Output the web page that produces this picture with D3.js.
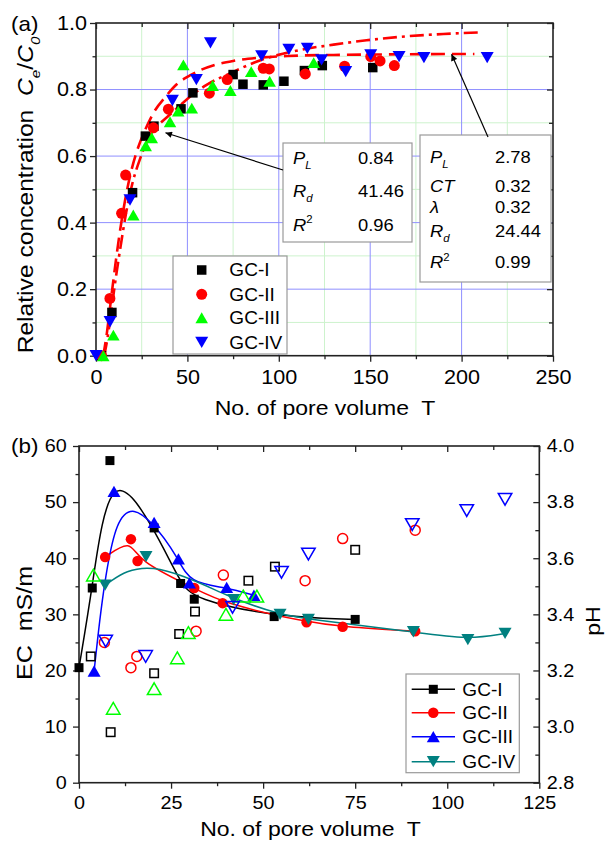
<!DOCTYPE html>
<html>
<head>
<meta charset="utf-8">
<script src="https://cdn.jsdelivr.net/npm/d3@7"></script>
<style>
  body { margin: 0; background: #fff; }
  svg { display: block; }
  text { font-family: Arial, "Liberation Sans", Helvetica, sans-serif; fill: #000; white-space: pre; }
</style>
</head>
<body>
<svg id="fig" width="608" height="841"></svg>
<script>
// ---------------- Panel (a): breakthrough curves ----------------
const aSeriesNames = ["GC-I", "GC-II", "GC-III", "GC-IV"];
const aXTicks = [0, 50, 100, 150, 200, 250];
const aXMinor = [25, 75, 125, 175, 225];
const aYTicks = [0, 0.2, 0.4, 0.6, 0.8, 1.0];
const aYMinor = [0.1, 0.3, 0.5, 0.7, 0.9];

const aGC1 = [[3,0],[8.7,0.13],[20,0.49],[27,0.66],[31.7,0.69],[46.5,0.742],[53,0.79],[75,0.845],[80.4,0.816],
  [91.5,0.814],[102.8,0.825],[114,0.857],[123.8,0.872],[151.4,0.866]];
const aGC2 = [[3,0],[7.6,0.172],[14,0.428],[16.2,0.543],[31.4,0.685],[39.6,0.741],[62,0.789],[71.8,0.83],
  [91.5,0.864],[94.8,0.862],[114.5,0.847],[136,0.87],[150.3,0.899],[155.4,0.886],[163.2,0.872]];
const aGC3 = [[4,0],[9.5,0.062],[20.4,0.423],[27.2,0.631],[30.5,0.655],[40.5,0.703],[45,0.735],[47.8,0.874],
  [52.4,0.744],[63.8,0.812],[73.5,0.797],[84.9,0.854],[95,0.825],[119.1,0.881]];
const aGC4 = [[0,0],[7.7,0.102],[18.6,0.468],[41.8,0.767],[54.9,0.83],[62.6,0.94],[90.6,0.901],[105.5,0.921],
  [115.6,0.924],[123.4,0.889],[136.6,0.854],[150.3,0.904],[165.8,0.899],[179.4,0.896],[214,0.896]];
const aSeriesData = [aGC1, aGC2, aGC3, aGC4];

// equilibrium CDE fit (dash-dot) and two-region fit (dashed)
const aFitEq = [[4.5,0],[6.5,0.06],[8.5,0.14],[11,0.24],[13.5,0.33],[16.5,0.43],[20,0.52],[24,0.59],[28,0.645],
  [31.4,0.678],[36,0.703],[40.5,0.725],[46,0.752],[51.4,0.778],[60.5,0.814],[73,0.848],[90,0.888],[111.6,0.919],
  [130,0.935],[148,0.948],[170,0.96],[190,0.967],[211,0.972]];
const aFitNoneq = [[4,0],[6,0.07],[8,0.16],[10.5,0.27],[13,0.37],[16,0.47],[19.5,0.56],[23,0.625],[27,0.68],
  [32,0.735],[38,0.778],[44,0.815],[50,0.838],[57,0.858],[65,0.874],[75,0.886],[88,0.895],[105,0.901],
  [130,0.904],[170,0.906],[207,0.907]];

// fit parameter tables: [symbol, subscript/superscript, kind, value]
const aParamsEq = [["P","L","sub","0.84"],["R","d","sub","41.46"],["R","2","sup","0.96"]];
const aParamsNoneq = [["P","L","sub","2.78"],["CT","","", "0.32"],["λ","","","0.32"],["R","d","sub","24.44"],["R","2","sup","0.99"]];
// points the two arrows indicate on the fitted curves
const aArrowEqAt = [38, 0.67];
const aArrowNoneqAt = [194.5, 0.906];

// ---------------- Panel (b): EC and pH of effluent ----------------
const bXTicks = [0, 25, 50, 75, 100, 125];
const bXMinor = [12.5, 37.5, 62.5, 87.5, 112.5];
const bECTicks = [0, 10, 20, 30, 40, 50, 60];
const bECMinor = [5, 15, 25, 35, 45, 55];
const bPHTicks = [2.8, 3.0, 3.2, 3.4, 3.6, 3.8, 4.0];
const bPHMinor = [2.9, 3.1, 3.3, 3.5, 3.7, 3.9];

// EC (mS/m), filled markers with smoothed lines
const bEC1 = [[0,20.5],[3.6,34.7],[8.4,57.4],[20.4,45.4],[27.6,35.5],[31.3,32.7],[53,29.6],[75,29.1]];
const bEC2 = [[7.1,40.2],[14.1,43.4],[15.9,39.5],[31.3,34.7],[39,32.0],[61.8,28.6],[71.6,27.8],[91.3,27.0]];
const bEC3 = [[4.1,19.9],[9.5,51.9],[20.4,46.4],[27,39.9],[30,35.6],[40.1,34.8],[47.5,33.4]];
const bEC4 = [[7.1,35.2],[18.2,40.3],[42,32.6],[54.6,30.0],[62.3,29.1],[90.8,26.9],[105.6,25.5],[115.7,26.6]];
const bECData = [bEC1, bEC2, bEC3, bEC4];

// pH, open markers
const bPH1 = [[3.2,3.25],[8.6,2.98],[20.4,3.19],[27.2,3.33],[31.5,3.41],[46,3.52],[53.2,3.57],[75,3.63]];
const bPH2 = [[6.9,3.30],[14.1,3.21],[15.7,3.25],[31.8,3.34],[39.2,3.54],[61.4,3.52],[71.6,3.67],[91.3,3.70]];
const bPH3 = [[3.9,3.54],[9.3,3.065],[20.4,3.135],[26.7,3.245],[29.7,3.335],[39.9,3.40],[44.6,3.465],[48.3,3.465]];
const bPH4 = [[7.25,3.305],[18.1,3.25],[41.7,3.425],[55,3.55],[62.3,3.615],[90.5,3.72],[105.3,3.77],[115.7,3.81]];
const bPHData = [bPH1, bPH2, bPH3, bPH4];

// ---------------- drawing ----------------
const svg = d3.select("#fig");
const FONT = 'Arial, "Liberation Sans", Helvetica, sans-serif';
const AXIS = "#222";

svg.append("defs").append("marker")
  .attr("id", "arrowHead").attr("viewBox", "0 0 10 10")
  .attr("refX", 10).attr("refY", 5)
  .attr("markerWidth", 9).attr("markerHeight", 6.5)
  .attr("markerUnits", "userSpaceOnUse").attr("orient", "auto")
  .append("path").attr("d", "M0,0 L10,5 L0,10 Z").attr("fill", "#000");

// text helpers (lettering is slightly wide, so stretch along the reading direction)
function label(parent, x, y, str, o = {}) {
  const size = o.size || 18, sx = o.sx || 1.1;
  const t = parent.append("text")
    .attr("transform", `translate(${x},${y})` + (o.rotate ? ` rotate(${o.rotate})` : "") + ` scale(${sx},1)`)
    .attr("font-size", size).attr("text-anchor", o.anchor || "start");
  if (o.italic) t.attr("font-style", "italic");
  if (str !== null) t.text(str);
  return t;
}
function richLabel(parent, x, y, parts, o = {}) {
  const size = o.size || 18;
  const t = label(parent, x, y, null, o);
  let shift = 0;
  parts.forEach(p => {
    const ts = t.append("tspan").text(p.t);
    const target = p.sub ? 0.32 * size : p.sup ? -0.42 * size : 0;
    ts.attr("dy", target - shift);
    shift = target;
    if (p.sub || p.sup) ts.attr("font-size", size * 0.62);
    if (p.it) ts.attr("font-style", "italic");
  });
  return t;
}

function marker(g, shape, x, y, size, fill, stroke, sw) {
  let el;
  if (shape === "square") {
    el = g.append("rect").attr("x", x - size / 2).attr("y", y - size / 2).attr("width", size).attr("height", size);
  } else if (shape === "circle") {
    el = g.append("circle").attr("cx", x).attr("cy", y).attr("r", size / 2);
  } else {
    const h = size * 0.87, s = shape === "up" ? 1 : -1;
    el = g.append("path").attr("d",
      `M${x},${y - s * h / 2} L${x + size / 2},${y + s * h / 2} L${x - size / 2},${y + s * h / 2} Z`);
  }
  el.attr("fill", fill).attr("stroke", stroke).attr("stroke-width", sw);
}

function styleAxis(g, fontSize, sx) {
  g.select(".domain").remove();
  g.attr("font-family", FONT).attr("font-size", fontSize);
  g.selectAll("line").attr("stroke", AXIS).attr("stroke-width", 1.3);
  g.selectAll("text").attr("fill", "#000").attr("transform", `scale(${sx},1)`);
}

const shapes = ["square", "circle", "up", "down"];

// ===== Panel (a) =====
const xA = d3.scaleLinear().domain([0, 250]).range([96, 553]);
const yA = d3.scaleLinear().domain([0, 1]).range([355.7, 23]);
const aColors = ["#000000", "#ff0000", "#00ff00", "#0000ff"];
const aSizes = [9.5, 11, 12.5, 13];
const gA = svg.append("g");

// grid
gA.append("g").selectAll("line.vmin").data(aXMinor).join("line")
  .attr("x1", d => xA(d)).attr("x2", d => xA(d)).attr("y1", yA(0)).attr("y2", yA(1))
  .attr("stroke", "#cdf3cd").attr("stroke-width", 1);
gA.append("g").selectAll("line.hmin").data(aYMinor).join("line")
  .attr("y1", d => yA(d)).attr("y2", d => yA(d)).attr("x1", xA(0)).attr("x2", xA(250))
  .attr("stroke", "#cdf3cd").attr("stroke-width", 1);
gA.append("g").selectAll("line.vmaj").data(aXTicks.slice(1, -1)).join("line")
  .attr("x1", d => xA(d)).attr("x2", d => xA(d)).attr("y1", yA(0)).attr("y2", yA(1))
  .attr("stroke", "#8f8fff").attr("stroke-width", 1);
gA.append("g").selectAll("line.hmaj").data(aYTicks.slice(1, -1)).join("line")
  .attr("y1", d => yA(d)).attr("y2", d => yA(d)).attr("x1", xA(0)).attr("x2", xA(250))
  .attr("stroke", "#8f8fff").attr("stroke-width", 1);

// axes
styleAxis(gA.append("g").attr("transform", `translate(0,${yA(0)})`)
  .call(d3.axisBottom(xA).tickValues(aXTicks).tickSize(6).tickSizeOuter(0).tickPadding(8).tickFormat(d3.format("d"))), 20, 1.08);
styleAxis(gA.append("g").attr("transform", `translate(0,${yA(0)})`)
  .call(d3.axisBottom(xA).tickValues(aXMinor).tickSize(3.5).tickSizeOuter(0).tickFormat("")), 20, 1.08);
styleAxis(gA.append("g").attr("transform", `translate(${xA(0)},0)`)
  .call(d3.axisLeft(yA).tickValues(aYTicks).tickSize(6).tickSizeOuter(0).tickPadding(2.3).tickFormat(d3.format(".1f"))), 20, 1.08);
styleAxis(gA.append("g").attr("transform", `translate(${xA(0)},0)`)
  .call(d3.axisLeft(yA).tickValues(aYMinor).tickSize(3.5).tickSizeOuter(0).tickFormat("")), 20, 1.08);
styleAxis(gA.append("g").attr("transform", `translate(0,${yA(1)})`)
  .call(d3.axisTop(xA).tickValues(aXTicks).tickSize(-6).tickSizeOuter(0).tickFormat("")), 20, 1.08);
styleAxis(gA.append("g").attr("transform", `translate(0,${yA(1)})`)
  .call(d3.axisTop(xA).tickValues(aXMinor).tickSize(-4).tickSizeOuter(0).tickFormat("")), 20, 1.08);
styleAxis(gA.append("g").attr("transform", `translate(${xA(250)},0)`)
  .call(d3.axisRight(yA).tickValues(aYTicks).tickSize(-6).tickSizeOuter(0).tickFormat("")), 20, 1.08);
styleAxis(gA.append("g").attr("transform", `translate(${xA(250)},0)`)
  .call(d3.axisRight(yA).tickValues(aYMinor).tickSize(-4).tickSizeOuter(0).tickFormat("")), 20, 1.08);

gA.append("rect").attr("x", xA(0)).attr("y", yA(1)).attr("width", xA(250) - xA(0)).attr("height", yA(0) - yA(1))
  .attr("fill", "none").attr("stroke", AXIS).attr("stroke-width", 1.6);

// parameter boxes
function paramBox(x, y, w, h, rows, baselines, valueX) {
  gA.append("rect").attr("x", x).attr("y", y).attr("width", w).attr("height", h)
    .attr("fill", "#fff").attr("stroke", "#9a9a9a").attr("stroke-width", 1.2);
  rows.forEach((r, i) => {
    const parts = [{ t: r[0], it: true }];
    if (r[1]) parts.push({ t: r[1], it: r[2] === "sub", sub: r[2] === "sub", sup: r[2] === "sup" });
    richLabel(gA, x + 10, baselines[i], parts, { size: 17, sx: 1.08 });
    label(gA, valueX, baselines[i], r[3], { size: 17, sx: 1.08 });
  });
}
paramBox(283, 143, 129, 99, aParamsEq, [163.5, 197, 230.5], 358);
paramBox(420, 135, 131, 147, aParamsNoneq, [162.7, 191.7, 213.3, 236.7, 268.3], 495);

// legend (a)
gA.append("rect").attr("x", 173).attr("y", 256).attr("width", 114).attr("height", 98)
  .attr("fill", "#fff").attr("stroke", "#9a9a9a").attr("stroke-width", 1.2);
const aLegRows = [270, 294.3, 317.7, 342.3];
aSeriesNames.forEach((n, i) => {
  marker(gA, shapes[i], 201.7, aLegRows[i], aSizes[i], aColors[i], "none", 0);
  label(gA, 229.3, aLegRows[i] + 6.4, n, { size: 18, sx: 1.06 });
});

// fitted curves
const lineA = d3.line().x(d => xA(d[0])).y(d => yA(d[1])).curve(d3.curveMonotoneX);
gA.append("path").attr("d", lineA(aFitNoneq)).attr("fill", "none").attr("stroke", "#ff0000")
  .attr("stroke-width", 2.6).attr("stroke-dasharray", "14,7");
gA.append("path").attr("d", lineA(aFitEq)).attr("fill", "none").attr("stroke", "#ff0000")
  .attr("stroke-width", 2.6).attr("stroke-dasharray", "14,5,3,5");

// data markers
aSeriesData.forEach((data, i) => {
  const g = gA.append("g");
  data.forEach(d => marker(g, shapes[i], xA(d[0]), yA(d[1]), aSizes[i], aColors[i], "none", 0));
});

// arrows from parameter boxes to their curves
gA.append("line").attr("x1", 283).attr("y1", 170).attr("x2", xA(aArrowEqAt[0])).attr("y2", yA(aArrowEqAt[1]))
  .attr("stroke", "#000").attr("stroke-width", 1.2).attr("marker-end", "url(#arrowHead)");
gA.append("line").attr("x1", 488).attr("y1", 137).attr("x2", xA(aArrowNoneqAt[0])).attr("y2", yA(aArrowNoneqAt[1]))
  .attr("stroke", "#000").attr("stroke-width", 1.2).attr("marker-end", "url(#arrowHead)");

// titles (a)
label(gA, 11, 31, "(a)", { size: 20, sx: 1.12 });
label(gA, 325, 415, "No. of pore volume  T", { size: 19.5, sx: 1.18, anchor: "middle" });
richLabel(gA, 33, 195, [
  { t: "Relative concentration  " },
  { t: "C", it: true }, { t: "e", it: true, sub: true }, { t: "/" },
  { t: "C", it: true }, { t: "0", it: true, sub: true }
], { size: 22, sx: 1.12, rotate: -90, anchor: "middle" });

// ===== Panel (b) =====
const xB = d3.scaleLinear().domain([0, 125]).range([79, 539.3]);
const yB = d3.scaleLinear().domain([0, 60]).range([782.7, 446]);
const yPH = d3.scaleLinear().domain([2.8, 4.0]).range([782.7, 446]);
const bColors = ["#000000", "#ff0000", "#0000ff", "#008080"];
const bOpenColors = ["#000000", "#ff0000", "#00ff00", "#0000ff"];
const bSizes = [9, 10.5, 13, 13];
const bOpenSizes = [10, 11.5, 15, 15];
const gB = svg.append("g");

styleAxis(gB.append("g").attr("transform", `translate(0,${yB(0)})`)
  .call(d3.axisBottom(xB).tickValues(bXTicks).tickSize(6).tickSizeOuter(0).tickPadding(8).tickFormat(d3.format("d"))), 18, 1.1);
styleAxis(gB.append("g").attr("transform", `translate(0,${yB(0)})`)
  .call(d3.axisBottom(xB).tickValues(bXMinor).tickSize(3.5).tickSizeOuter(0).tickFormat("")), 18, 1.1);
styleAxis(gB.append("g").attr("transform", `translate(${xB(0)},0)`)
  .call(d3.axisLeft(yB).tickValues(bECTicks).tickSize(6).tickSizeOuter(0).tickPadding(5.2).tickFormat(d3.format("d"))), 18, 1.1);
styleAxis(gB.append("g").attr("transform", `translate(${xB(0)},0)`)
  .call(d3.axisLeft(yB).tickValues(bECMinor).tickSize(3.5).tickSizeOuter(0).tickFormat("")), 18, 1.1);
styleAxis(gB.append("g").attr("transform", `translate(0,${yB(60)})`)
  .call(d3.axisTop(xB).tickValues(bXTicks).tickSize(-6).tickSizeOuter(0).tickFormat("")), 18, 1.1);
styleAxis(gB.append("g").attr("transform", `translate(0,${yB(60)})`)
  .call(d3.axisTop(xB).tickValues(bXMinor).tickSize(-4).tickSizeOuter(0).tickFormat("")), 18, 1.1);
styleAxis(gB.append("g").attr("transform", `translate(${xB(125)},0)`)
  .call(d3.axisRight(yPH).tickValues(bPHTicks).tickSize(-6).tickSizeOuter(0).tickPadding(6.8).tickFormat(d3.format(".1f"))), 18, 1.1);
styleAxis(gB.append("g").attr("transform", `translate(${xB(125)},0)`)
  .call(d3.axisRight(yPH).tickValues(bPHMinor).tickSize(-4).tickSizeOuter(0).tickFormat("")), 18, 1.1);

gB.append("rect").attr("x", xB(0)).attr("y", yB(60)).attr("width", xB(125) - xB(0)).attr("height", yB(0) - yB(60))
  .attr("fill", "none").attr("stroke", AXIS).attr("stroke-width", 1.6);

// smoothed EC lines
const lineB = d3.line().x(d => xB(d[0])).y(d => yB(d[1])).curve(d3.curveBasis);
bECData.forEach((data, i) => {
  gB.append("path").attr("d", lineB(data)).attr("fill", "none")
    .attr("stroke", bColors[i]).attr("stroke-width", 1.5);
});
bECData.forEach((data, i) => {
  const g = gB.append("g");
  data.forEach(d => marker(g, shapes[i], xB(d[0]), yB(d[1]), bSizes[i], bColors[i], "none", 0));
});
// pH, open markers
bPHData.forEach((data, i) => {
  const g = gB.append("g");
  data.forEach(d => marker(g, shapes[i], xB(d[0]), yPH(d[1]), bOpenSizes[i] - 1.5, "none", bOpenColors[i], 1.5));
});

// legend (b)
gB.append("rect").attr("x", 406).attr("y", 674).attr("width", 113.3).attr("height", 98.7)
  .attr("fill", "#fff").attr("stroke", "#9a9a9a").attr("stroke-width", 1.2);
const bLegRows = [689.3, 712.7, 736.7, 761.7];
aSeriesNames.forEach((n, i) => {
  gB.append("line").attr("x1", 411.7).attr("x2", 455).attr("y1", bLegRows[i]).attr("y2", bLegRows[i])
    .attr("stroke", bColors[i]).attr("stroke-width", 1.5);
  marker(gB, shapes[i], 433.3, bLegRows[i], bSizes[i], bColors[i], "none", 0);
  label(gB, 462.3, bLegRows[i] + 6.4, n, { size: 18, sx: 1.06 });
});

// titles (b)
label(gB, 11, 453, "(b)", { size: 20, sx: 1.12 });
label(gB, 310.5, 836, "No. of pore volume  T", { size: 19.5, sx: 1.18, anchor: "middle" });
label(gB, 32, 623, "EC  mS/m", { size: 22, sx: 1.14, rotate: -90, anchor: "middle" });
label(gB, 600, 621, "pH", { size: 21, sx: 1.1, rotate: -90, anchor: "middle" });
</script>
</body>
</html>
